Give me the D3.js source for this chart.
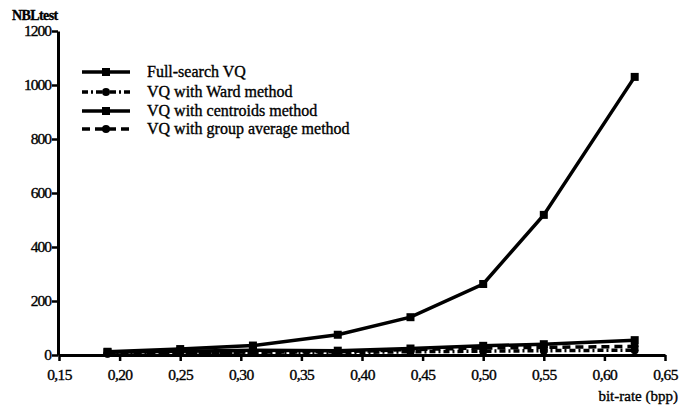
<!DOCTYPE html>
<html><head><meta charset="utf-8">
<script src="https://cdn.jsdelivr.net/npm/d3@7"></script>
<style>body{margin:0;background:#fff}svg{display:block}text{font-family:"Liberation Serif","DejaVu Serif",serif;fill:#000;stroke:#000;stroke-width:0.35px}</style>
</head><body><svg id="c" width="680" height="405"></svg>
<script>
const bitRates = [0.19, 0.25, 0.31, 0.38, 0.44, 0.50, 0.55, 0.625];
const fullSearch = [12, 22, 35, 75, 140, 263, 519, 1030];
const wardMethod = [5, 7, 8, 9, 12, 14, 16, 18];
const centroidsMethod = [10, 14, 18, 16, 24, 34, 40, 55];
const groupAverage = [6, 9, 11, 12, 20, 26, 28, 32];
const seriesNames = ["Full-search VQ", "VQ with Ward method", "VQ with centroids method", "VQ with group average method"];
const xTicks = [0.15, 0.20, 0.25, 0.30, 0.35, 0.40, 0.45, 0.50, 0.55, 0.60, 0.65];
const yTicks = [0, 200, 400, 600, 800, 1000, 1200];

const series = [
  {name: seriesNames[0], values: fullSearch, dash: null, marker: "square"},
  {name: seriesNames[1], values: wardMethod, dash: "6,3,2,3", marker: "circle"},
  {name: seriesNames[2], values: centroidsMethod, dash: null, marker: "square"},
  {name: seriesNames[3], values: groupAverage, dash: "8,5", marker: "circle"}
];

const svg = d3.select("#c");
const x = d3.scaleLinear().domain([0.15, 0.65]).range([59, 665]);
const y = d3.scaleLinear().domain([0, 1200]).range([355, 31]);
const fmt = v => d3.format(".2f")(v).replace(".", ",");

const xAxis = svg.append("g").attr("transform", "translate(0,355)")
  .call(d3.axisBottom(x).tickValues(xTicks).tickFormat(fmt).tickSize(6).tickSizeOuter(0));
xAxis.select(".domain").attr("stroke-width", 3);
xAxis.selectAll(".tick line").attr("stroke-width", 2.5);
xAxis.selectAll("text").attr("font-size", 15.5).attr("dy", "1.0em").style("letter-spacing", "-0.6px");

const yAxis = svg.append("g").attr("transform", "translate(58,0)")
  .call(d3.axisLeft(y).tickValues(yTicks).tickFormat(d3.format("d")).tickSize(6).tickSizeOuter(0));
yAxis.select(".domain").attr("stroke-width", 3);
yAxis.selectAll(".tick line").attr("stroke-width", 2.5);
yAxis.selectAll("text").attr("font-size", 15.5).attr("x", -7).style("letter-spacing", "-1px");

svg.append("text").attr("x", 12).attr("y", 20).attr("font-size", 14).attr("font-weight", "bold").style("letter-spacing", "-0.6px").text("NBLtest");
svg.append("text").attr("x", 678).attr("y", 401).attr("text-anchor", "end").attr("font-size", 15).text("bit-rate (bpp)");

const line = d3.line().x((d, i) => x(bitRates[i])).y(d => y(d));

function marker(g, type, cx, cy) {
  if (type === "square") g.append("rect").attr("x", cx - 4).attr("y", cy - 4).attr("width", 8).attr("height", 8).attr("fill", "#000");
  else g.append("circle").attr("cx", cx).attr("cy", cy).attr("r", 4).attr("fill", "#000");
}

[...series].reverse().forEach(s => {
  const g = svg.append("g");
  g.append("path").datum(s.values).attr("d", line).attr("fill", "none").attr("stroke", "#000")
    .attr("stroke-width", 3.5).attr("stroke-dasharray", s.dash);
  s.values.forEach((v, i) => marker(g, s.marker, x(bitRates[i]), y(v)));
});

const legend = svg.append("g");
const legY = [72, 92, 111, 129];
series.forEach((s, i) => {
  const row = legend.append("g").attr("transform", `translate(0,${legY[i]})`);
  row.append("line").attr("x1", 82).attr("x2", 130).attr("y1", 0).attr("y2", 0)
    .attr("stroke", "#000").attr("stroke-width", 3.5).attr("stroke-dasharray", s.dash);
  marker(row, s.marker, 106, 0);
  row.append("text").attr("x", 147).attr("y", 5).attr("font-size", 16).text(s.name);
});
</script></body></html>
